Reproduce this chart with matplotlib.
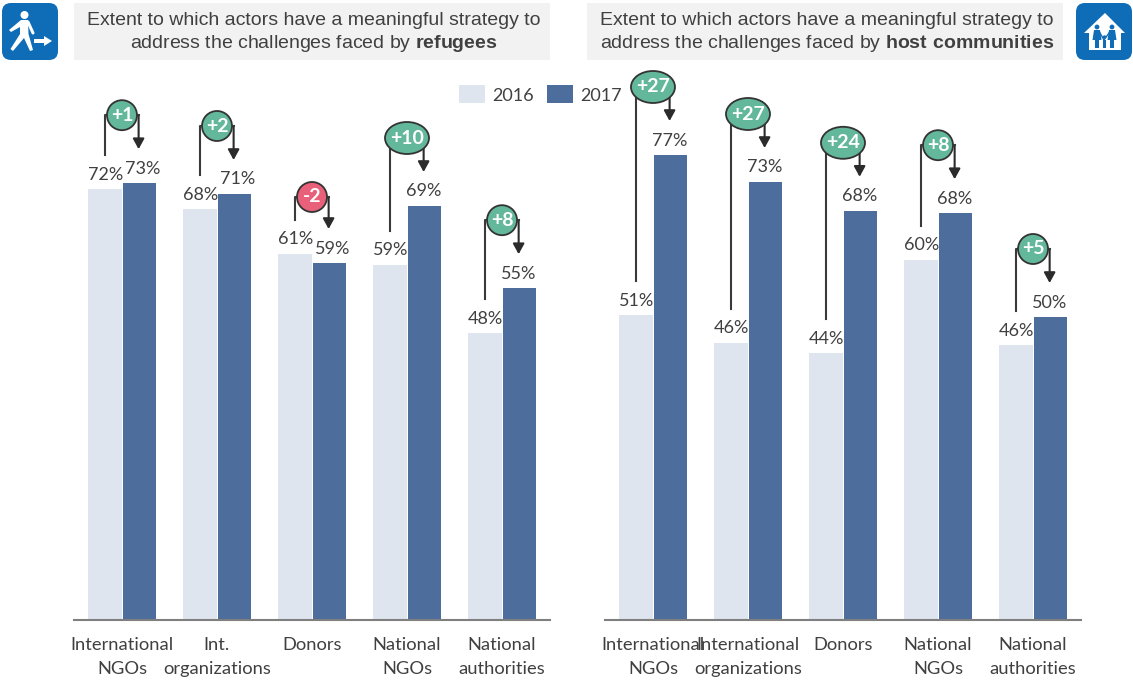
import matplotlib
matplotlib.use('Agg')
from matplotlib import pyplot as plt
from matplotlib.patches import Ellipse, FancyBboxPatch, Rectangle, Circle, Polygon
import numpy as np

W, H = 1133, 680

plt.rcParams['font.family'] = ['Lato', 'DejaVu Sans']
plt.rcParams['mathtext.fontset'] = 'custom'
plt.rcParams['mathtext.bf'] = 'Liberation Sans:bold'
plt.rcParams['mathtext.rm'] = 'Liberation Sans'

years = ['2016', '2017']

refugee_groups = ['International\nNGOs', 'Int.\norganizations', 'Donors', 'National\nNGOs', 'National\nauthorities']
refugee_2016 = [71.8, 68.5, 61.0, 59.2, 47.8]
refugee_2017 = [72.8, 71.0, 59.5, 69.0, 55.3]
refugee_text_2016 = ['72%', '68%', '61%', '59%', '48%']
refugee_text_2017 = ['73%', '71%', '59%', '69%', '55%']
refugee_delta = ['+1', '+2', '-2', '+10', '+8']

host_groups = ['International\nNGOs', 'International\norganizations', 'Donors', 'National\nNGOs', 'National\nauthorities']
host_2016 = [50.8, 46.2, 44.5, 60.0, 45.8]
host_2017 = [77.5, 73.0, 68.2, 67.8, 50.5]
host_text_2016 = ['51%', '46%', '44%', '60%', '46%']
host_text_2017 = ['77%', '73%', '68%', '68%', '50%']
host_delta = ['+27', '+27', '+24', '+8', '+5']

title_left = 'Extent to which actors have a meaningful strategy to\naddress the challenges faced by $\\mathbf{refugees}$'
title_right = 'Extent to which actors have a meaningful strategy to\naddress the challenges faced by $\\mathbf{host\\ communities}$'

LIGHT = '#DEE5EF'
DARK = '#4D6D9C'
TXT = '#404040'
LINE = '#3A3A3A'
GREEN = '#63B79B'
RED = '#E9607A'
BLUE = '#0F6DB8'
PX = 1 / 6.0  # one pixel in value units
UNIT = 95.0   # pixels between groups
BAR = 0.35


def panel(fig, left, groups, v16, v17, t16, t17, delta):
    ax = fig.add_axes([left / W, (H - 620) / H, 476 / W, 560 / H])
    ax.set_xlim(-0.505, 4.505)
    ax.set_ylim(0, 560 * PX)
    x = np.arange(len(groups))
    b1 = ax.bar(x - BAR / 2 - 0.004, v16, BAR, color=LIGHT, label=years[0])
    b2 = ax.bar(x + BAR / 2 + 0.006, v17, BAR, color=DARK, label=years[1])
    ax.patch.set_alpha(0)
    for s in ['top', 'left', 'right']:
        ax.spines[s].set_visible(False)
    ax.spines['bottom'].set_color('#7F7F7F')
    ax.spines['bottom'].set_linewidth(1.5)
    ax.set_yticks([])
    ax.set_xticks(x)
    ax.set_xticklabels(groups, fontsize=13.2, color=TXT, linespacing=1.65)
    ax.tick_params(axis='x', length=0, pad=12)

    for i in range(len(groups)):
        xl, xr = i - BAR / 2, i + BAR / 2
        # close values: the 2017 label is nudged so the two do not touch
        nudge = 4 / UNIT if abs(v16[i] - v17[i]) < 4 else 0
        ax.text(xl, v16[i] + 14.5 * PX, t16[i], ha='center', va='center', fontsize=13, color=TXT)
        ax.text(xr + nudge, v17[i] + 14.5 * PX, t17[i], ha='center', va='center', fontsize=13, color=TXT)

        drop = delta[i].startswith('-')
        top = max(v16[i], v17[i]) + (57 if drop else 68) * PX
        ax.plot([xl, xl, i], [v16[i] + 34 * PX, top, top], color=LINE, lw=1.5, clip_on=False, zorder=3)
        ax.annotate('', xy=(xr, v17[i] + 34 * PX), xytext=(xr, top),
                    arrowprops=dict(arrowstyle='-|>,head_width=0.34,head_length=0.62', color='#2B2B2B',
                                    lw=1.5, shrinkA=0, shrinkB=0), annotation_clip=False, zorder=3)
        ax.plot([i, xr], [top, top], color=LINE, lw=1.5, clip_on=False, zorder=3)
        wide = 44 if len(delta[i]) > 2 else 30
        high = 32 if len(delta[i]) > 2 else 30
        ax.add_patch(Ellipse((i, top), wide / UNIT, high * PX, facecolor=RED if drop else GREEN,
                             edgecolor='#333333', lw=1.3, clip_on=False, zorder=4))
        ax.text(i, top, delta[i], ha='center', va='center', fontsize=14, fontweight='bold',
                color='white', zorder=5)
    return b1, b2


fig = plt.figure(figsize=(W / 100, H / 100), dpi=100)

# overlay in pixel coordinates for the header boxes and icons
bg = fig.add_axes([0, 0, 1, 1])
bg.set_xlim(0, W)
bg.set_ylim(H, 0)
bg.axis('off')

for x0, x1, t in [(74, 550, title_left), (587, 1063, title_right)]:
    bg.add_patch(Rectangle((x0, 3), x1 - x0, 57, facecolor='#F2F2F2', edgecolor='none'))
    bg.text((x0 + x1) / 2 + 2, 33, t, ha='center', va='center', fontsize=14.0, color=TXT,
            family='Liberation Sans', linespacing=1.22)

for x0 in [2, 1076]:
    bg.add_patch(FancyBboxPatch((x0 + 8, 11), 40, 41, boxstyle='round,pad=8,rounding_size=9',
                                facecolor=BLUE, edgecolor='none'))

# walking person with arrow
bg.add_patch(Circle((24.5, 15), 4, facecolor='white', edgecolor='none'))
bg.add_patch(Polygon([(21, 20), (28, 20), (28.5, 34), (33, 50), (30, 51), (24, 38), (13, 51), (10.5, 49), (20, 34), (20, 27), (11, 32), (9, 30)],
                     facecolor='white', edgecolor='none'))
bg.plot([28, 33], [22, 33], color='white', lw=2.2, solid_capstyle='round')
bg.add_patch(Polygon([(34, 39), (44, 39), (44, 36), (52, 41), (44, 46), (44, 43), (34, 43)], facecolor='white', edgecolor='none'))

# house with family
bg.add_patch(Polygon([(1105, 13), (1125, 33), (1121, 33), (1121, 50), (1089, 50), (1089, 33), (1084, 33)],
                     facecolor='white', edgecolor='none'))
for cx in [1097, 1112]:
    bg.add_patch(Circle((cx, 27), 2.4, facecolor=BLUE, edgecolor='none'))
    bg.add_patch(Polygon([(cx - 3, 30), (cx + 3, 30), (cx + 4.5, 40), (cx + 2, 40), (cx + 2, 48), (cx - 2, 48), (cx - 2, 40), (cx - 4.5, 40)],
                         facecolor=BLUE, edgecolor='none'))
bg.add_patch(Circle((1104.5, 37), 1.7, facecolor=BLUE, edgecolor='none'))
bg.add_patch(Rectangle((1103, 39.5), 3, 8.5, facecolor=BLUE, edgecolor='none'))
bg.plot([1100, 1104, 1109], [33, 40, 33], color=BLUE, lw=1)

handles = panel(fig, 74, refugee_groups, refugee_2016, refugee_2017, refugee_text_2016, refugee_text_2017, refugee_delta)
panel(fig, 605, host_groups, host_2016, host_2017, host_text_2016, host_text_2017, host_delta)

fig.legend(handles, years, loc='center', bbox_to_anchor=(540.5 / W, (H - 94.5) / H), ncol=2, frameon=False,
           fontsize=13, labelcolor=TXT, handlelength=1.45, handleheight=1.15, handletextpad=0.4,
           columnspacing=0.75, borderpad=0, borderaxespad=0)

fig.savefig('out.png', dpi=100)
